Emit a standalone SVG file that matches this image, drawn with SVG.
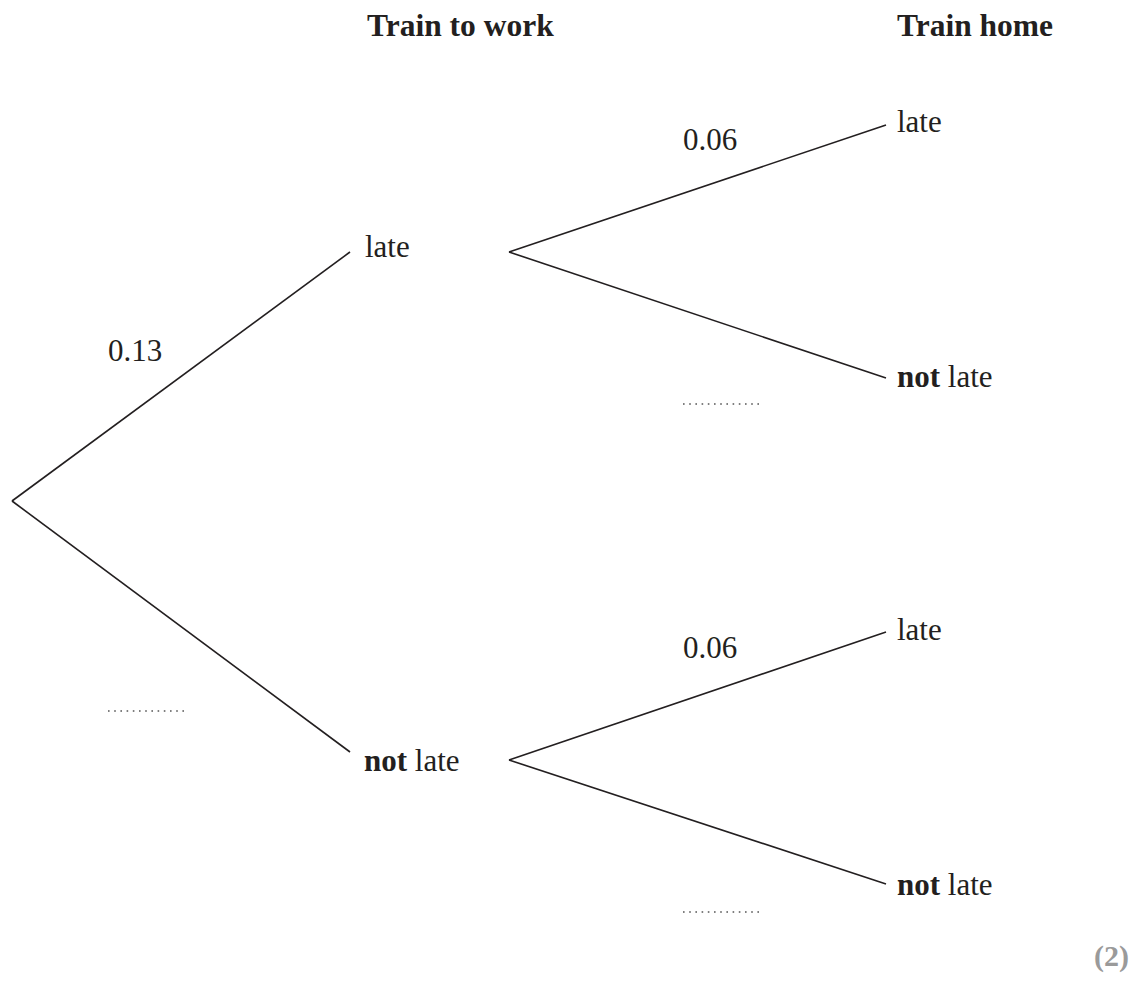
<svg xmlns="http://www.w3.org/2000/svg" width="1132" height="989" viewBox="0 0 1132 989">
<style>
text{font-family:"Liberation Serif","Times New Roman",serif;font-size:31px;fill:#231f20}
.b{font-weight:bold}
.h{font-weight:bold;font-size:31.5px}
.m{font-weight:bold;fill:#9a9a9a;font-size:30px}
.br{stroke:#231f20;stroke-width:1.6;fill:none}
.dot{stroke:#555;stroke-width:1.6;stroke-dasharray:1.6 4.6;fill:none}
</style>
<rect width="1132" height="989" fill="#fff"/>
<g id="headers">
<text class="h" x="367" y="36">Train to work</text>
<text class="h" x="897" y="36">Train home</text>
</g>
<g id="connectors">
<line class="br" x1="12" y1="501" x2="350" y2="252"/>
<line class="br" x1="12" y1="501" x2="350" y2="752"/>
<line class="br" x1="509" y1="252" x2="886" y2="125"/>
<line class="br" x1="509" y1="252" x2="886" y2="378"/>
<line class="br" x1="509" y1="760" x2="886" y2="632"/>
<line class="br" x1="509" y1="760" x2="886" y2="884"/>
</g>
<g id="n-late1"><text x="365" y="257">late</text></g>
<g id="n-notlate1"><text x="364" y="771"><tspan class="b">not</tspan> late</text></g>
<g id="n-ll"><text x="897" y="132">late</text></g>
<g id="n-lnl"><text x="897" y="387"><tspan class="b">not</tspan> late</text></g>
<g id="n-nll"><text x="897" y="640">late</text></g>
<g id="n-nlnl"><text x="897" y="895"><tspan class="b">not</tspan> late</text></g>
<g id="labels">
<text x="108" y="361">0.13</text>
<text x="683" y="150">0.06</text>
<text x="683" y="658">0.06</text>
<line class="dot" x1="108" y1="711" x2="185" y2="711"/>
<line class="dot" x1="683" y1="404" x2="760" y2="404"/>
<line class="dot" x1="683" y1="912" x2="760" y2="912"/>
<text class="m" x="1094" y="966">(2)</text>
</g>
</svg>
